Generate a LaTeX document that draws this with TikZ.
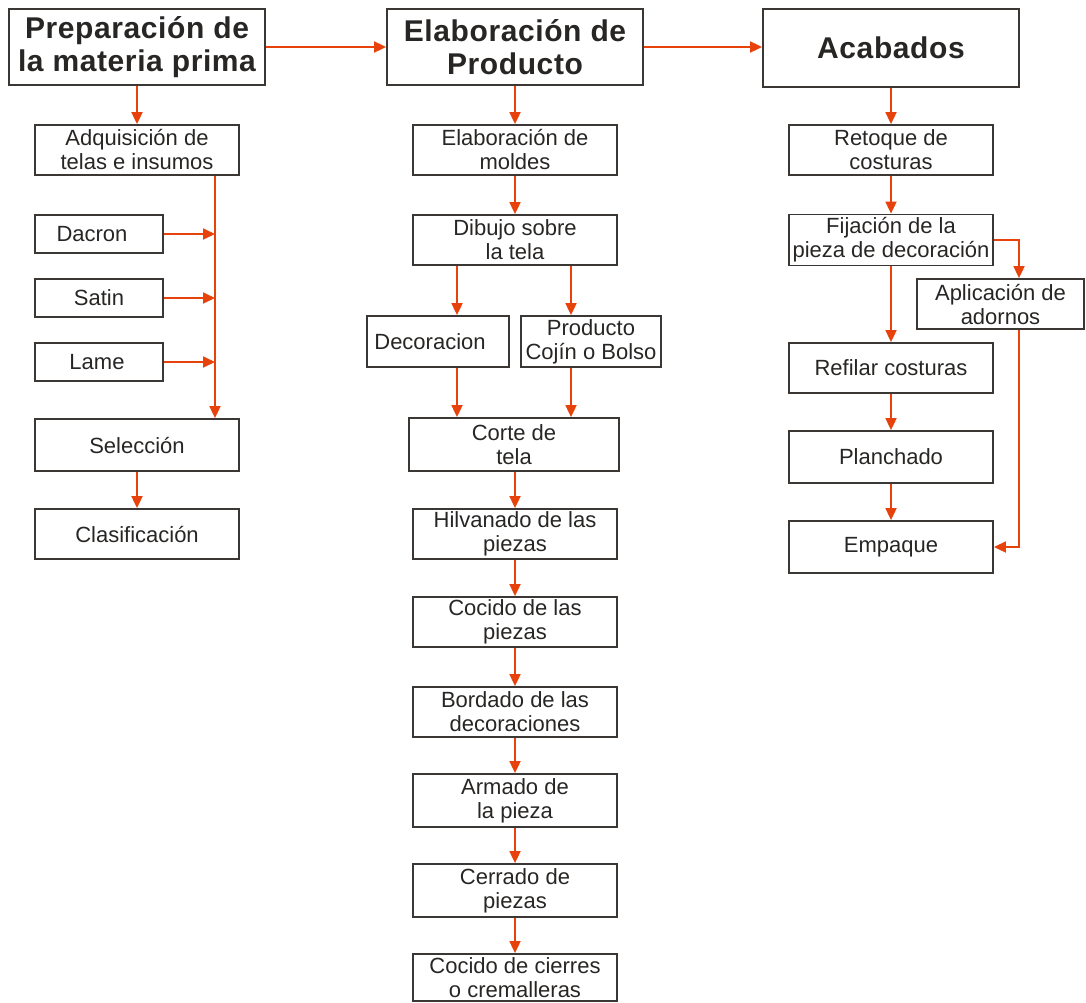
\documentclass[tikz,border=0pt]{standalone}
\usepackage{fontspec}
\setmainfont{Liberation Sans}
\newfontfamily\headfont[LetterSpace=2]{Liberation Sans}
\usetikzlibrary{arrows.meta}
\definecolor{lnc}{RGB}{232,66,12}
\definecolor{bdc}{RGB}{58,55,52}
\definecolor{txc}{RGB}{40,38,36}
\begin{document}
\begin{tikzpicture}[x=1pt,y=-1pt,
  box/.style={draw=bdc,line width=1.8pt,inner sep=0pt,align=center,text=txc,
    minimum width=204pt,minimum height=50pt,font=\fontsize{22}{24}\selectfont},
  head/.style={box,minimum width=256pt,minimum height=76pt,
    font=\headfont\bfseries\fontsize{30}{33}\selectfont},
  arr/.style={draw=lnc,line width=1.8pt,-{Triangle[length=12pt,width=11pt]}}]
\useasboundingbox (0,0) rectangle (1086,1002);
% headers
\node[head] (h1) at (137,47) {Preparación de\\la materia prima};
\node[head] (h2) at (515,47) {Elaboración de\\Producto};
\node[head,minimum height=78pt] (h3) at (891,48) {Acabados};
% column 1
\node[box] (adq) at (137,150) {Adquisición de\\telas e insumos};
\node[box,minimum width=128pt,minimum height=38pt] (dac) at (99,234) {Dacron\hspace{14pt}};
\node[box,minimum width=128pt,minimum height=38pt] (sat) at (99,298) {Satin};
\node[box,minimum width=128pt,minimum height=38pt] (lam) at (99,362) {Lame\hspace{4pt}};
\node[box,minimum height=52pt] (sel) at (137,445) {Selección};
\node[box] (cla) at (137,534) {Clasificación};
\coordinate (bus1) at (215,0);
% column 2
\node[box] (mol) at (515,150) {Elaboración de\\moldes};
\node[box] (dib) at (515,240) {Dibujo sobre\\la tela};
\node[box,minimum width=142pt,minimum height=51pt] (dec) at (438,341.5) {Decoracion\hspace{16pt}};
\node[box,minimum width=140pt,minimum height=51pt] (pro) at (591,341.5) {Producto\\Cojín o Bolso};
\node[box,minimum width=210pt,minimum height=53pt] (cor) at (514,444.5) {Corte de\\tela};
\node[box] (hil) at (515,534) {Hilvanado de las\\piezas};
\node[box] (coc) at (515,622) {Cocido de las\\piezas};
\node[box] (bor) at (515,712) {Bordado de las\\decoraciones};
\node[box,minimum height=53pt] (arm) at (515,800.5) {Armado de\\la pieza};
\node[box,minimum height=53pt] (cer) at (515,890.5) {Cerrado de\\piezas};
\node[box,minimum height=47pt] (cie) at (515,977.5) {Cocido de cierres\\o cremalleras};
\coordinate (c1) at (457,0);
\coordinate (c2) at (571,0);
% column 3
\node[box] (ret) at (891,150) {Retoque de\\costuras};
\node[box,minimum height=51pt] (fij) at (891,240) {Fijación de la\\pieza de decoración};
\node[box,minimum width=167pt] (apl) at (1000.5,304) {Aplicación de\\adornos};
\node[box] (rfl) at (891,368) {Refilar costuras};
\node[box,minimum height=52pt] (pla) at (891,457) {Planchado};
\node[box,minimum height=52pt] (emp) at (891,547) {Empaque};
\coordinate (bus2) at (1019,0);
% connectors
\draw[arr] (h1.east) -- (h2.west);
\draw[arr] (h2.east) -- (h2.east -| h3.west);
\draw[arr] (h1.south) -- (adq.north);
\draw[arr] (adq.south -| bus1) -- (sel.north -| bus1);
\draw[arr] (dac.east) -- (dac.east -| bus1);
\draw[arr] (sat.east) -- (sat.east -| bus1);
\draw[arr] (lam.east) -- (lam.east -| bus1);
\draw[arr] (sel.south) -- (cla.north);
\draw[arr] (h2.south) -- (mol.north);
\draw[arr] (mol.south) -- (dib.north);
\draw[arr] (dib.south -| c1) -- (dec.north -| c1);
\draw[arr] (dib.south -| c2) -- (pro.north -| c2);
\draw[arr] (dec.south -| c1) -- (cor.north -| c1);
\draw[arr] (pro.south -| c2) -- (cor.north -| c2);
\draw[arr] (cor.south -| hil) -- (hil.north);
\draw[arr] (hil.south) -- (coc.north);
\draw[arr] (coc.south) -- (bor.north);
\draw[arr] (bor.south) -- (arm.north);
\draw[arr] (arm.south) -- (cer.north);
\draw[arr] (cer.south) -- (cie.north);
\draw[arr] (h3.south) -- (ret.north);
\draw[arr] (ret.south) -- (fij.north);
\draw[arr] (fij.east) -| (apl.north -| bus2);
\draw[arr] (fij.south) -- (rfl.north);
\draw[arr] (rfl.south) -- (pla.north);
\draw[arr] (pla.south) -- (emp.north);
\draw[arr] (apl.south -| bus2) |- (emp.east);
\end{tikzpicture}
\end{document}
